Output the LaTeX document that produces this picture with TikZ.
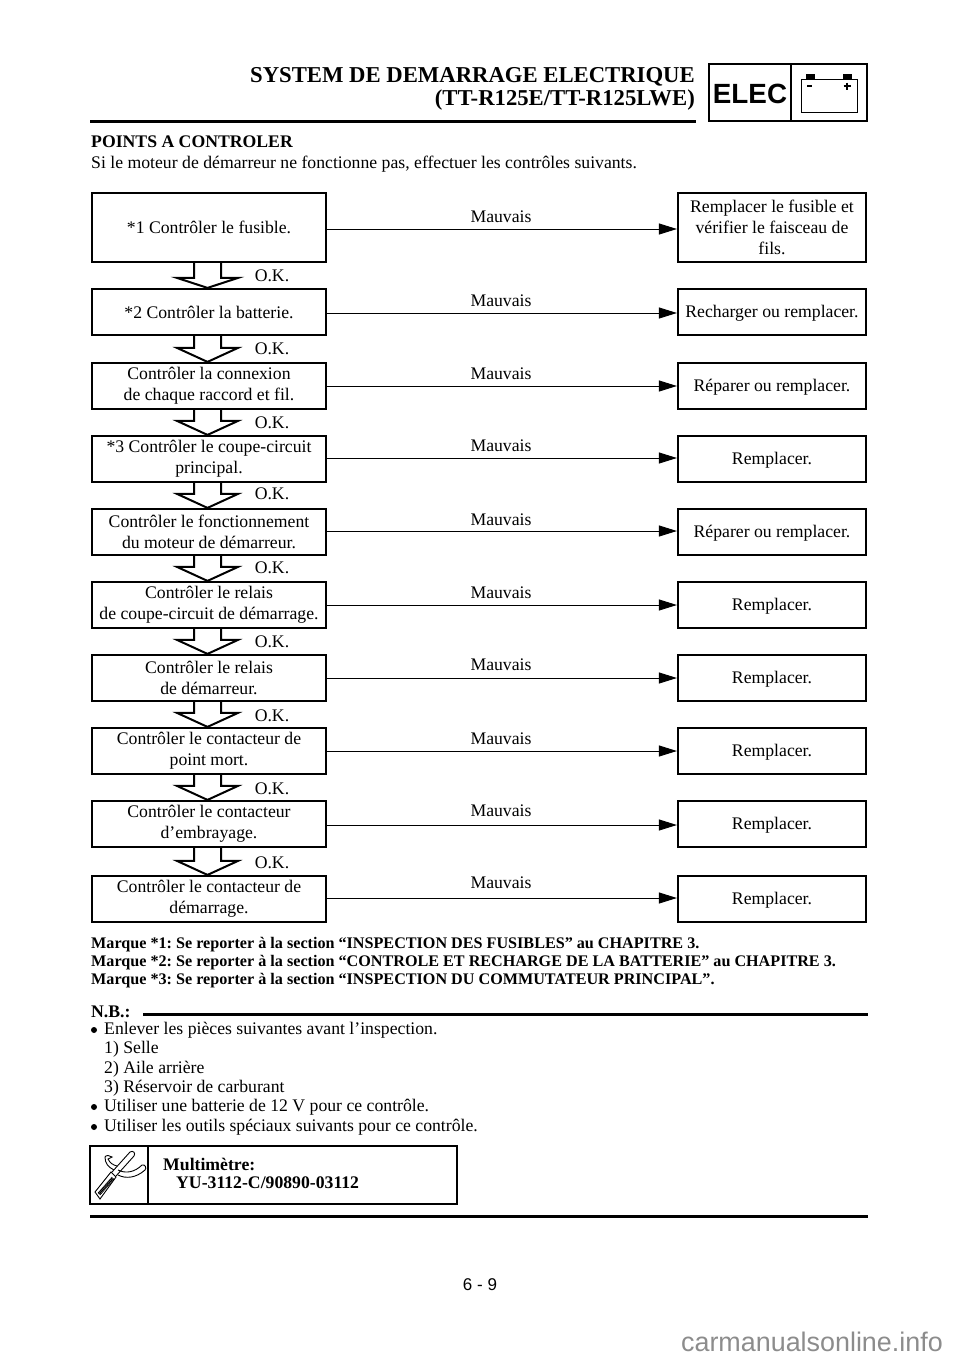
\documentclass[tikz,border=0pt]{standalone}
\usepackage{fontspec}
\setmainfont{Liberation Serif}
\setsansfont{Liberation Sans}
\usetikzlibrary{arrows.meta}
\tikzset{
  checkbox/.style={draw,line width=2.2pt,minimum width=234pt,inner sep=0pt,align=center,font=\fontsize{17.7}{21}\selectfont},
  fixbox/.style={draw,line width=2.2pt,minimum width=188pt,inner sep=0pt,align=center,font=\fontsize{17.7}{21}\selectfont},
  lowtext/.style={execute at begin node={\rule{0pt}{#1}}},
  badline/.style={line width=0.9pt,-{Triangle[length=18pt,width=11pt]}},
  badlabel/.style={font=\fontsize{17.7}{20}\selectfont},
  oklabel/.style={font=\fontsize{17.7}{20}\selectfont},
  bodytext/.style={anchor=west,inner sep=0pt,font=\fontsize{17.7}{20}\selectfont},
  boldtext/.style={bodytext,font=\fontsize{17.7}{20}\selectfont\bfseries},
  notetext/.style={anchor=west,inner sep=0pt,font=\fontsize{16.15}{18}\selectfont\bfseries},
  rulethick/.style={line width=3pt}
}
\newcommand{\okdown}[3]{%
  \draw[line width=2pt,fill=white] ([xshift=-15pt]#1.south) -- ([xshift=-15pt,yshift=#3]#2.north) -- ++(-17pt,0)
    -- ([xshift=-1.5pt]#2.north) -- ([xshift=29pt,yshift=#3]#2.north) -- ++(-17pt,0) -- ([xshift=12pt]#1.south);}
\begin{document}
\begin{tikzpicture}[x=1pt,y=-1pt]
  \frenchspacing
  \useasboundingbox (0,0) rectangle (960,1358);
  % header
  \node[anchor=east,inner sep=0pt,font=\fontsize{22.7}{24}\selectfont\bfseries] (headone) at (695,77) {SYSTEM DE DEMARRAGE ELECTRIQUE};
  \node[anchor=east,inner sep=0pt,font=\fontsize{22.7}{24}\selectfont\bfseries] (headtwo) at (695,100) {(TT-R125E/TT-R125LWE)};
  \draw[rulethick] (90,121)--(696,121);
  \draw[line width=2.6pt] (709,64) rectangle (867,121);
  \draw[line width=2.6pt] (791,64)--(791,121);
  \node[inner sep=0pt,font=\fontsize{27.8}{30}\selectfont\sffamily\bfseries] (elec) at (750,94) {ELEC};
  \draw[line width=1pt] (801,79) rectangle (857,112);
  \fill (806,74) rectangle (815,79); \fill (843,74) rectangle (852,79);
  \draw[line width=1.4pt] (807,86)--(812,86);
  \draw[line width=1.4pt] (843.5,86)--(850.5,86); \draw[line width=1.4pt] (847,82.5)--(847,89.5);
  % intro
  \node[boldtext] (title) at (91,142) {POINTS A CONTROLER};
  \node[bodytext] (intro) at (91,164) {Si le moteur de démarreur ne fonctionne pas, effectuer les contrôles suivants.};
  % left column
  \node[checkbox,minimum height=69pt] (chkone) at (209,227.5) {*1 Contrôler le fusible.};
  \node[checkbox,minimum height=46pt] (chktwo) at (209,312) {*2 Contrôler la batterie.};
  \node[checkbox,minimum height=46pt,lowtext=17pt] (chkthree) at (209,386) {Contrôler la connexion\\de chaque raccord et fil.};
  \node[checkbox,minimum height=46pt,lowtext=17pt] (chkfour) at (209,459) {*3 Contrôler le coupe-circuit\\principal.};
  \node[checkbox,minimum height=46pt] (chkfive) at (209,532) {Contrôler le fonctionnement\\du moteur de démarreur.};
  \node[checkbox,minimum height=46pt,lowtext=19pt] (chksix) at (209,605) {Contrôler le relais\\de coupe-circuit de démarrage.};
  \node[checkbox,minimum height=46pt] (chkseven) at (209,678) {Contrôler le relais\\de démarreur.};
  \node[checkbox,minimum height=46pt,lowtext=19pt] (chkeight) at (209,751) {Contrôler le contacteur de\\point mort.};
  \node[checkbox,minimum height=46pt,lowtext=19pt] (chknine) at (209,824) {Contrôler le contacteur\\d’embrayage.};
  \node[checkbox,minimum height=46pt,lowtext=19pt] (chkten) at (209,899) {Contrôler le contacteur de\\démarrage.};
  % right column
  \node[fixbox,minimum height=69pt] (fixone) at (772,227.5) {Remplacer le fusible et\\vérifier le faisceau de\\fils.};
  \node[fixbox,minimum height=46pt,lowtext=14.5pt] (fixtwo) at (772,312) {Recharger ou remplacer.};
  \node[fixbox,minimum height=46pt,lowtext=14.5pt] (fixthree) at (772,386) {Réparer ou remplacer.};
  \node[fixbox,minimum height=46pt,lowtext=14.5pt] (fixfour) at (772,459) {Remplacer.};
  \node[fixbox,minimum height=46pt,lowtext=14.5pt] (fixfive) at (772,532) {Réparer ou remplacer.};
  \node[fixbox,minimum height=46pt,lowtext=14.5pt] (fixsix) at (772,605) {Remplacer.};
  \node[fixbox,minimum height=46pt,lowtext=14.5pt] (fixseven) at (772,678) {Remplacer.};
  \node[fixbox,minimum height=46pt,lowtext=14.5pt] (fixeight) at (772,751) {Remplacer.};
  \node[fixbox,minimum height=46pt,lowtext=14.5pt] (fixnine) at (772,824) {Remplacer.};
  \node[fixbox,minimum height=46pt,lowtext=14.5pt] (fixten) at (772,899) {Remplacer.};
  % bad branches
  \draw[badline] (chkone.east|-0,229)--(fixone.west|-0,229);
  \draw[badline] (chktwo.east|-0,313)--(fixtwo.west|-0,313);
  \draw[badline] (chkthree.east|-0,386)--(fixthree.west|-0,386);
  \draw[badline] (chkfour.east|-0,458)--(fixfour.west|-0,458);
  \draw[badline] (chkfive.east|-0,531)--(fixfive.west|-0,531);
  \draw[badline] (chksix.east|-0,605)--(fixsix.west|-0,605);
  \draw[badline] (chkseven.east|-0,678)--(fixseven.west|-0,678);
  \draw[badline] (chkeight.east|-0,751)--(fixeight.west|-0,751);
  \draw[badline] (chknine.east|-0,825)--(fixnine.west|-0,825);
  \draw[badline] (chkten.east|-0,898)--(fixten.west|-0,898);
  \node[badlabel] (badone) at (501,216.5) {Mauvais};
  \node[badlabel] (badtwo) at (501,300.5) {Mauvais};
  \node[badlabel] (badthree) at (501,373.5) {Mauvais};
  \node[badlabel] (badfour) at (501,445.5) {Mauvais};
  \node[badlabel] (badfive) at (501,519.5) {Mauvais};
  \node[badlabel] (badsix) at (501,592.5) {Mauvais};
  \node[badlabel] (badseven) at (501,664.5) {Mauvais};
  \node[badlabel] (badeight) at (501,738.5) {Mauvais};
  \node[badlabel] (badnine) at (501,810.5) {Mauvais};
  \node[badlabel] (badten) at (501,882.5) {Mauvais};
  % ok branches
  \okdown{chkone}{chktwo}{10pt}
  \okdown{chktwo}{chkthree}{14pt}
  \okdown{chkthree}{chkfour}{14pt}
  \okdown{chkfour}{chkfive}{14pt}
  \okdown{chkfive}{chksix}{14pt}
  \okdown{chksix}{chkseven}{14pt}
  \okdown{chkseven}{chkeight}{14pt}
  \okdown{chkeight}{chknine}{14pt}
  \okdown{chknine}{chkten}{14pt}
  \node[oklabel] (okone) at (272,276) {O.K.};
  \node[oklabel] (oktwo) at (272,349) {O.K.};
  \node[oklabel] (okthree) at (272,423) {O.K.};
  \node[oklabel] (okfour) at (272,494) {O.K.};
  \node[oklabel] (okfive) at (272,568) {O.K.};
  \node[oklabel] (oksix) at (272,642) {O.K.};
  \node[oklabel] (okseven) at (272,716) {O.K.};
  \node[oklabel] (okeight) at (272,789) {O.K.};
  \node[oklabel] (oknine) at (272,863) {O.K.};
  % notes
  \node[notetext] (markone) at (91,945) {Marque *1: Se reporter à la section “INSPECTION DES FUSIBLES” au CHAPITRE 3.};
  \node[notetext] (marktwo) at (91,963) {Marque *2: Se reporter à la section “CONTROLE ET RECHARGE DE LA BATTERIE” au CHAPITRE 3.};
  \node[notetext] (markthree) at (91,981) {Marque *3: Se reporter à la section “INSPECTION DU COMMUTATEUR PRINCIPAL”.};
  \node[boldtext] (nb) at (91,1012) {N.B.:};
  \draw[rulethick] (143,1014)--(868,1014);
  \fill (94,1030) circle (3pt); \fill (94,1107) circle (3pt); \fill (94,1127) circle (3pt);
  \node[bodytext] (lineone) at (104,1030) {Enlever les pièces suivantes avant l’inspection.};
  \node[bodytext] (linetwo) at (104,1049) {1) Selle};
  \node[bodytext] (linethree) at (104,1069) {2) Aile arrière};
  \node[bodytext] (linefour) at (104,1088) {3) Réservoir de carburant};
  \node[bodytext] (linefive) at (104,1107) {Utiliser une batterie de 12 V pour ce contrôle.};
  \node[bodytext] (linesix) at (104,1127) {Utiliser les outils spéciaux suivants pour ce contrôle.};
  % tool box
  \draw[line width=2.6pt] (90,1146) rectangle (457,1204);
  \draw[line width=2.6pt] (148,1146)--(148,1204);
  \node[boldtext] (toolname) at (163,1164) {Multimètre:};
  \node[boldtext] (toolcode) at (176,1183) {YU-3112-C/90890-03112};
  \draw[line width=0.9pt] (95,1192)--(111,1172)--(116,1177)--(100,1199)--cycle;
  \draw[line width=3.5pt,dash pattern=on 1pt off 0.5pt] (99,1194)--(113,1178);
  \draw[line width=0.9pt] (112,1172)--(130,1152) .. controls (133,1150) and (136,1153) .. (134,1156)--(116,1176);
  \draw[line width=0.9pt] (118,1170) .. controls (126,1174) and (135,1172) .. (142,1165) .. controls (145,1164) and (147,1168) .. (145,1170) .. controls (136,1178) and (126,1179) .. (118,1175);
  \draw[line width=0.9pt] (114,1170) .. controls (108,1167) and (105,1163) .. (105,1157) .. controls (106,1155) and (110,1155) .. (112,1157)--(108,1159) .. controls (110,1163) and (113,1165) .. (117,1166);
  % footer
  \draw[rulethick] (90,1216)--(868,1216);
  \node[inner sep=0pt,font=\fontsize{17}{20}\selectfont\sffamily] (pagenum) at (480,1285) {6 - 9};
  \node[anchor=east,inner sep=0pt,text=black!45,font=\fontsize{26.9}{27}\selectfont\sffamily] (webmark) at (943,1342) {carmanualsonline.info};
\end{tikzpicture}
\end{document}
